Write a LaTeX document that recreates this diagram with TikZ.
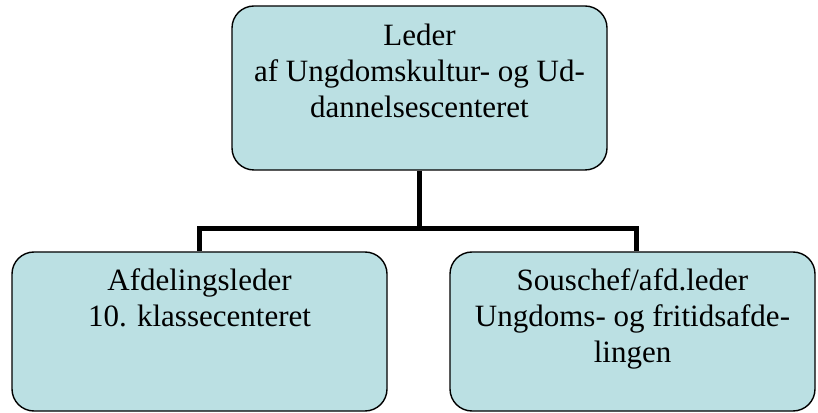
\documentclass[tikz,border=0pt]{standalone}
\usepackage{fontspec}
\setmainfont{Liberation Serif}
\usetikzlibrary{positioning}
\definecolor{boxblue}{RGB}{187,224,227}
\begin{document}
\begin{tikzpicture}[x=1pt, y=1pt,
    box/.style={rectangle, rounded corners=22pt, draw=black, line width=1.4pt, fill=boxblue, minimum height=159pt},
    txt/.style={align=center, inner sep=0pt, font=\fontsize{31}{36}\selectfont},
    link/.style={line width=4.5pt}]
            \useasboundingbox (0,0) rectangle (818,412);

              % the three boxes
              \node[box, minimum width=375pt, minimum height=164pt] (leder) at (419.5,324) {};
              \node[box, minimum width=375pt] (afd) at (199.5,80.5) {};
              \node[box, minimum width=365pt] (sous) at (632.5,80.5) {};

              % texts, set from the top of each box
              \node[txt, anchor=north] (lederTxt) at ([yshift=-18pt]leder.north) {Leder\\af Ungdomskultur- og Ud-\\dannelsescenteret};
              \node[txt, anchor=north] (afdTxt) at ([yshift=-17pt]afd.north) {Afdelingsleder\\10. klassecenteret};
              \node[txt, anchor=north] (sousTxt) at ([yshift=-17pt]sous.north) {Souschef/afd.leder\\Ungdoms- og fritidsafde-\\lingen};

              \draw[link] (leder.south) -- ++(0,-58) coordinate (split);
              \draw[link] (split) -| (afd.north);
              \draw[link] (split) -| ([xshift=4pt]sous.north);
                  
            \end{tikzpicture}
\end{document}
